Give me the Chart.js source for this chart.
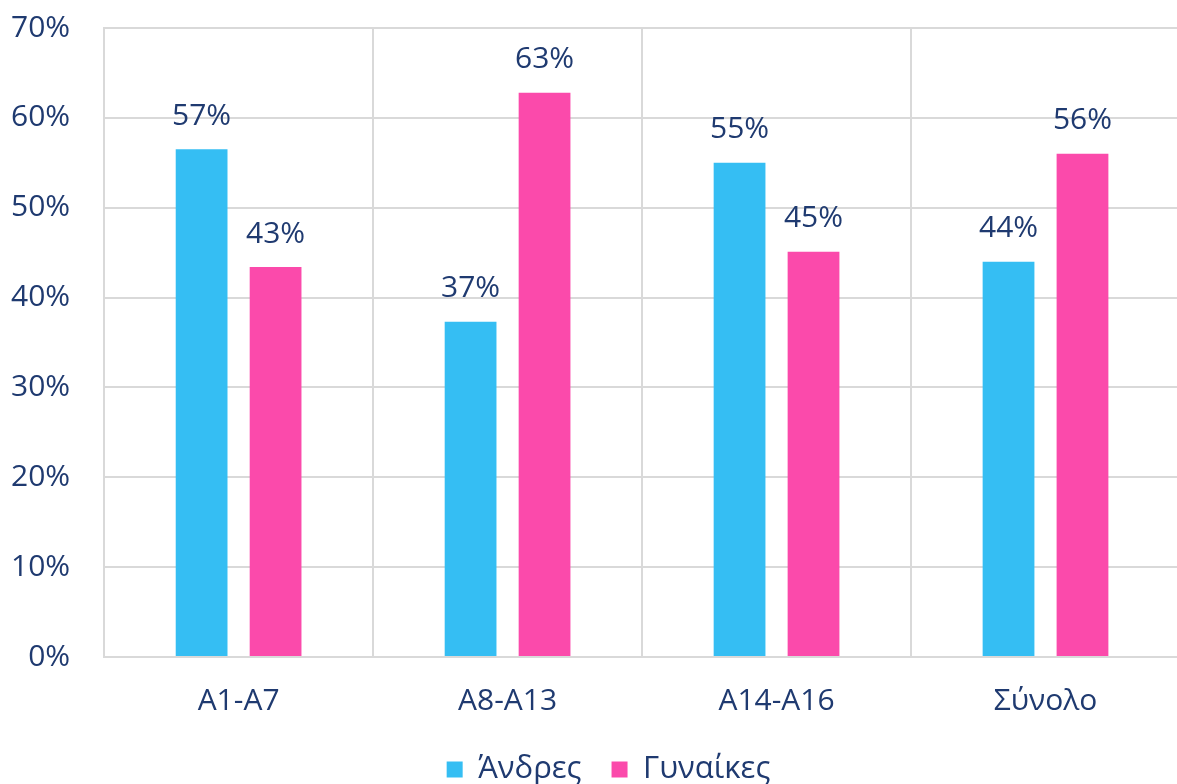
<!DOCTYPE html>
<html>
<head>
<meta charset="utf-8">
<script src="https://cdn.jsdelivr.net/npm/chart.js@4"></script>
<style>
  html, body { margin: 0; padding: 0; overflow: hidden; background: #fff; }
  #wrap { position: relative; left: -23px; top: -24px; width: 1203px; height: 819px; }
</style>
</head>
<body>
<div id="wrap"><canvas id="chart"></canvas></div>
<script>
// categories and values (percent)
const categories = ["A1-A7", "A8-A13", "A14-A16", "Σύνολο"];
const men = [56.5, 37.3, 55.0, 44.0];
const women = [43.4, 62.8, 45.1, 56.0];
const seriesNames = ["Άνδρες", "Γυναίκες"];

const textColor = "#1f3a70";
const gridColor = "#d9d9d9";
const fontFamily = "'Open Sans', sans-serif";
const fontSize = 30;

// draws the % labels over each bar
const barLabels = {
  id: "barLabels",
  afterDatasetsDraw(chart) {
    const ctx = chart.ctx;
    ctx.save();
    ctx.fillStyle = textColor;
    ctx.font = fontSize + "px " + fontFamily;
    ctx.textAlign = "center";
    ctx.textBaseline = "middle";
    chart.data.datasets.forEach((ds, i) => {
      chart.getDatasetMeta(i).data.forEach((bar, j) => {
        ctx.fillText(Math.round(ds.data[j]) + "%", bar.x, bar.y - 33);
      });
    });
    ctx.restore();
  },
};

// nudge the legend a bit right, like in the original
const legendShift = {
  id: "legendShift",
  beforeDraw(chart) {
    chart.legend.left += 30;
    chart.legend.right += 30;
  },
};

const ctx = document.getElementById("chart").getContext("2d");

new Chart(ctx, {
  type: "bar",
  data: {
    labels: categories,
    datasets: [
      {
        label: seriesNames[0],
        data: men,
        backgroundColor: "#35bef3",
        categoryPercentage: 0.55,
        barPercentage: 0.7,
      },
      {
        label: seriesNames[1],
        data: women,
        backgroundColor: "#fb4aab",
        categoryPercentage: 0.55,
        barPercentage: 0.7,
      },
    ],
  },
  options: {
    responsive: true,
    maintainAspectRatio: false,
    animation: false,
    layout: { padding: 0 },
    plugins: {
      legend: {
        position: "bottom",
        labels: {
          color: textColor,
          font: { family: fontFamily, size: 31 },
          boxWidth: 16,
          boxHeight: 16,
          padding: 30,
        },
      },
      tooltip: { enabled: false },
    },
    scales: {
      x: {
        grid: { color: gridColor, lineWidth: 2, drawTicks: false },
        border: { color: gridColor, width: 2 },
        ticks: {
          color: textColor,
          font: { family: fontFamily, size: fontSize },
          padding: 26,
        },
        afterFit(scale) {
          scale.height -= 21;
        },
      },
      y: {
        min: 0,
        max: 70,
        grid: { color: gridColor, lineWidth: 2, drawTicks: false },
        border: { color: gridColor, width: 2 },
        ticks: {
          stepSize: 10,
          color: textColor,
          font: { family: fontFamily, size: fontSize },
          padding: 34,
          callback: (v) => v + "%",
        },
      },
    },
  },
  plugins: [barLabels, legendShift],
});
</script>
</body>
</html>
